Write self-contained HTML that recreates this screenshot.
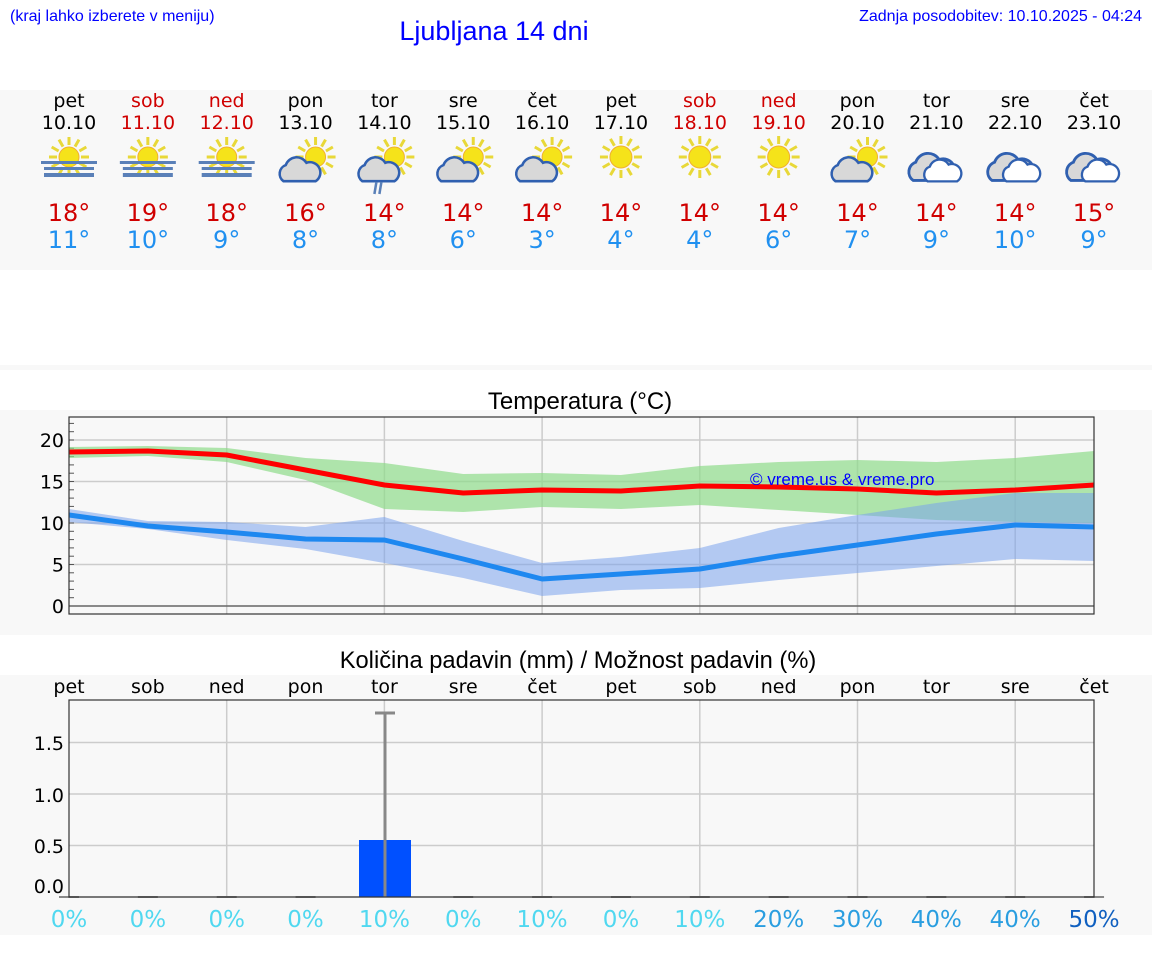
<!DOCTYPE html>
<html><head><meta charset="utf-8"><style>
body{margin:0;background:#fff;width:1152px;height:975px;overflow:hidden;font-family:"Liberation Sans","DejaVu Sans",sans-serif}
svg{position:absolute;left:0;top:0}
</style></head><body>
<svg id="s" width="1152" height="975" xmlns="http://www.w3.org/2000/svg" font-family="DejaVu Sans, Liberation Sans, sans-serif">
<rect x="0" y="90" width="1152" height="180" fill="#f8f8f8"/>
<rect x="0" y="270" width="1152" height="95" fill="#fff"/>
<rect x="0" y="365" width="1152" height="5" fill="#f8f8f8"/>
<rect x="0" y="410" width="1152" height="225" fill="#f8f8f8"/>
<rect x="0" y="675" width="1152" height="260" fill="#f8f8f8"/>
<text x="10" y="21" font-size="16" fill="#0000ff" font-family="Liberation Sans, sans-serif">(kraj lahko izberete v meniju)</text>
<text x="494" y="40" font-size="27" fill="#0000ff" text-anchor="middle" font-family="Liberation Sans, sans-serif">Ljubljana 14 dni</text>
<text x="1142" y="21" font-size="16" fill="#0000ff" text-anchor="end" font-family="Liberation Sans, sans-serif">Zadnja posodobitev: 10.10.2025 - 04:24</text>
<text x="580" y="409" font-size="24" text-anchor="middle" font-family="Liberation Sans, sans-serif">Temperatura (°C)</text>
<text x="578" y="668" font-size="23.7" text-anchor="middle" font-family="Liberation Sans, sans-serif">Količina padavin (mm) / Možnost padavin (%)</text>
<g id="g"></g>
</svg>
<script>
var g=document.getElementById('g'),h='';
var X=[];for(var i=0;i<14;i++)X.push(69+i*78.85);
var days=['pet','sob','ned','pon','tor','sre','čet','pet','sob','ned','pon','tor','sre','čet'];
var dates=['10.10','11.10','12.10','13.10','14.10','15.10','16.10','17.10','18.10','19.10','20.10','21.10','22.10','23.10'];
var red=[1,2,8,9];
var hi=[18,19,18,16,14,14,14,14,14,14,14,14,14,15],lo=[11,10,9,8,8,6,3,4,4,6,7,9,10,9];
var ic=['f','f','f','c','r','c','c','s','s','s','c','k','k','k'];
function sun(cx,cy,r){var s='';for(var a=0;a<12;a++){var t=a*Math.PI/6;s+='<line x1="'+(cx+Math.cos(t)*(r+2))+'" y1="'+(cy+Math.sin(t)*(r+2))+'" x2="'+(cx+Math.cos(t)*(r+10))+'" y2="'+(cy+Math.sin(t)*(r+10))+'" stroke="#e8d838" stroke-width="3"/>';}
return s+'<circle cx="'+cx+'" cy="'+cy+'" r="'+r+'" fill="#f5e31a" stroke="#f0b030" stroke-width="1"/>';}
function cloud(x,y,sc,fill){return '<g transform="translate('+x+','+y+') scale('+sc+')"><path d="M-14,8 a8,8 0 0 1 2,-14 a10,10 0 0 1 18,-2 a9,9 0 0 1 8,16 z" fill="'+fill+'" stroke="#3060b0" stroke-width="2.2"/></g>';}
for(var i=0;i<14;i++){var x=X[i],c=red.indexOf(i)>=0?'#d00000':'#000';
h+='<text x="'+x+'" y="107" font-size="19" fill="'+c+'" text-anchor="middle">'+days[i]+'</text>';
h+='<text x="'+x+'" y="129" font-size="19" fill="'+c+'" text-anchor="middle">'+dates[i]+'</text>';
h+='<text x="'+x+'" y="221" font-size="24" fill="#d00000" text-anchor="middle">'+hi[i]+'°</text>';
h+='<text x="'+x+'" y="248" font-size="24" fill="#2090f0" text-anchor="middle">'+lo[i]+'°</text>';
var t=ic[i];
if(t=='f'){h+=sun(x,157,10)+'<rect x="'+(x-28)+'" y="161" width="56" height="3" fill="#5a80b8"/><rect x="'+(x-25)+'" y="167" width="50" height="3" fill="#5a80b8"/><rect x="'+(x-25)+'" y="173" width="50" height="4" fill="#5a80b8"/>';}
if(t=='c'||t=='r'){h+=sun(x+10,157,10)+cloud(x-6,172,1.15,'#d8d8d8');}
if(t=='r'){h+='<line x1="'+(x-8)+'" y1="182" x2="'+(x-10)+'" y2="194" stroke="#5a80b8" stroke-width="2.5"/><line x1="'+(x-3)+'" y1="182" x2="'+(x-5)+'" y2="194" stroke="#5a80b8" stroke-width="2.5"/>';}
if(t=='s'){h+=sun(x,157,11);}
if(t=='k'){h+=cloud(x-5,170,1.3,'#d8d8d8')+cloud(x+6,173,1.05,'#fff');}
}
function ty(v){return 606-v*8.3;}
[0,5,10,15,20].forEach(function(v){h+='<line x1="69" x2="1094" y1="'+ty(v)+'" y2="'+ty(v)+'" stroke="#ccc" stroke-width="1.5"/><text x="64" y="'+(ty(v)+7)+'" font-size="19" text-anchor="end">'+v+'</text>';});
for(var v=0;v<=22;v++)h+='<line x1="69" x2="74" y1="'+ty(v)+'" y2="'+ty(v)+'" stroke="#555"/>';
[2,4,6,8,10,12].forEach(function(k){h+='<line x1="'+X[k]+'" x2="'+X[k]+'" y1="417" y2="614" stroke="#ccc" stroke-width="1.5"/>';});
function poly(a,b,col,op){var s='';for(var i=0;i<14;i++)s+=X[i]+','+a[i]+' ';for(var i=13;i>=0;i--)s+=X[i]+','+b[i]+' ';return '<polygon points="'+s+'" fill="'+col+'" opacity="'+op+'"/>';}
h+=poly([447,446,448,458,463,474,473,475,466,462,460,462,458,451],[458,456,462,480,509,512,507,509,505,510,515,520,522,523],'#8fdc8a',0.7);
h+=poly([509,521,522,527,517,541,563,557,548,528,515,503,493,493],[522,529,540,549,563,578,596,590,588,580,573,566,559,561],'#7aa2ec',0.55);
function line(a,col){var s='';for(var i=0;i<14;i++)s+=X[i]+','+a[i]+' ';return '<polyline points="'+s+'" fill="none" stroke="'+col+'" stroke-width="5" stroke-linejoin="round"/>';}
h+=line([452,451,455,470,485,493,490,491,486,487,489,493,490,485],'#ff0000');
h+=line([515,526,532,539,540,559,579,574,569,556,545,534,525,527],'#1e88f0');
h+='<rect x="69" y="417" width="1025" height="197" fill="none" stroke="#333" stroke-width="1.2"/>';
h+='<line x1="69" x2="1094" y1="606" y2="606" stroke="#333"/>';
h+='<text x="750" y="485" font-size="17" fill="#0000ff" font-family="Liberation Sans, sans-serif">© vreme.us &amp; vreme.pro</text>';
function py(v){return 897-v*103;}
[0,0.5,1,1.5].forEach(function(v){h+='<line x1="69" x2="1094" y1="'+py(v)+'" y2="'+py(v)+'" stroke="#ccc" stroke-width="1.5"/>';});
[['0.0',886],['0.5',846],['1.0',795],['1.5',743]].forEach(function(a){h+='<text x="64" y="'+(a[1]+7)+'" font-size="19" text-anchor="end">'+a[0]+'</text>';});
[2,4,6,8,10,12].forEach(function(k){h+='<line x1="'+X[k]+'" x2="'+X[k]+'" y1="700" y2="897" stroke="#ccc" stroke-width="1.5"/>';});
h+='<rect x="359" y="840" width="52" height="57" fill="#0050ff"/>';
h+='<line x1="385" x2="385" y1="713" y2="897" stroke="#888" stroke-width="3"/><line x1="375" x2="395" y1="713" y2="713" stroke="#888" stroke-width="3"/>';
for(var i=0;i<14;i++){if(i!=4)h+='<line x1="'+(X[i]-10)+'" x2="'+(X[i]+10)+'" y1="897" y2="897" stroke="#888" stroke-width="2"/>';}
h+='<rect x="69" y="700" width="1025" height="197" fill="none" stroke="#333" stroke-width="1.2"/>';
var pc=[0,0,0,0,10,0,10,0,10,20,30,40,40,50];
for(var i=0;i<14;i++){h+='<text x="'+X[i]+'" y="693" font-size="19" text-anchor="middle">'+days[i]+'</text>';
var c=pc[i]<20?'#50d8f0':(pc[i]<50?'#2a9ee0':'#1060c0');
h+='<text x="'+X[i]+'" y="927" font-size="23" fill="'+c+'" text-anchor="middle">'+pc[i]+'%</text>';}
g.innerHTML=h;
</script>
</body></html>
